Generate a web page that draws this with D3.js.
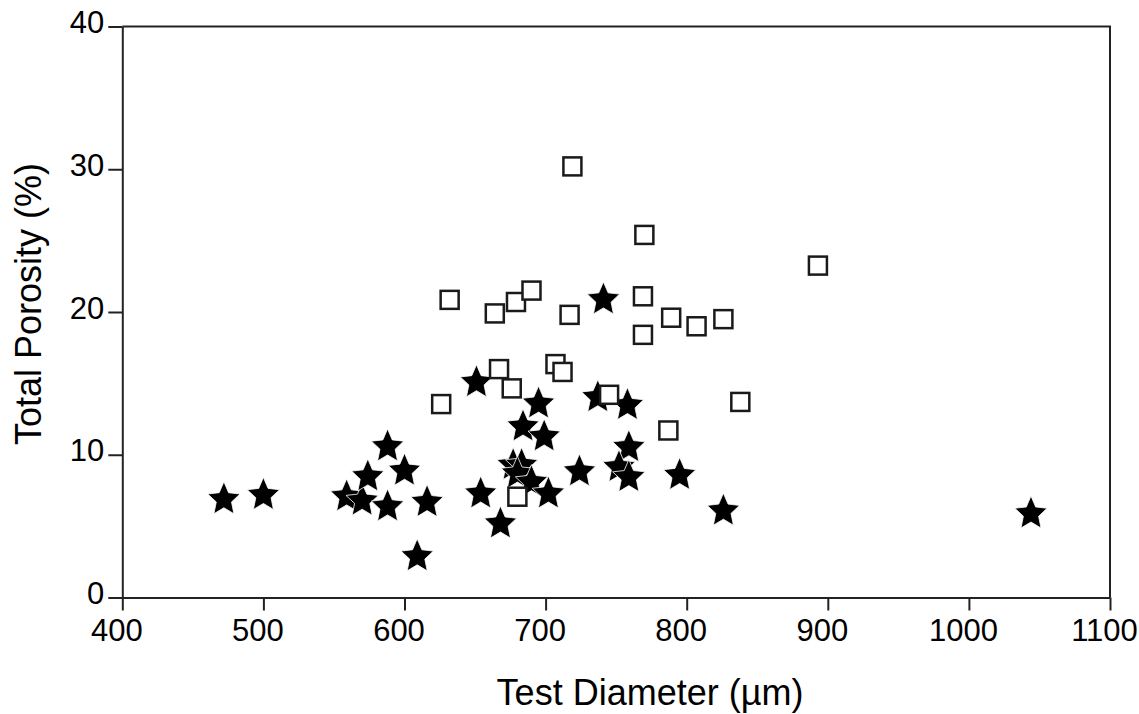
<!DOCTYPE html>
<html>
<head>
<meta charset="utf-8">
<script src="https://cdn.jsdelivr.net/npm/d3@7"></script>
<style>
  html, body { margin: 0; padding: 0; background: #fff; }
  svg { display: block; font-family: "Liberation Sans", Arial, sans-serif; }
</style>
</head>
<body>
<div id="chart"></div>
<script>
// filled stars
const starX = [472, 500, 559, 570, 574, 588, 588, 600, 609, 616,
               651, 654, 668, 677, 683, 680, 690, 684, 695, 699,
               702, 724, 737, 741, 758, 759, 752, 759, 795, 826, 1044];
const starY = [6.8, 7.1, 7.0, 6.7, 8.4, 10.5, 6.3, 8.8, 2.8, 6.6,
               15.0, 7.2, 5.1, 9.2, 9.2, 8.6, 8.0, 11.9, 13.5, 11.2,
               7.2, 8.75, 13.95, 20.8, 13.4, 10.45, 9.05, 8.35, 8.5, 6.0, 5.8];

// open squares
const squareX = [626, 632, 664, 667, 676, 679, 680, 690, 707, 712,
                 717, 719, 745, 769, 769, 770, 787, 789, 807, 826, 838, 893];
const squareY = [13.55, 20.85, 19.9, 16.0, 14.65, 20.7, 7.06, 21.5, 16.35, 15.8,
                 19.8, 30.2, 14.2, 21.1, 18.4, 25.4, 11.7, 19.6, 19.0, 19.5, 13.7, 23.25];

const xTicks = [400, 500, 600, 700, 800, 900, 1000, 1100];
const yTicks = [0, 10, 20, 30, 40];

const width = 1139, height = 714;
const plot = { left: 122.3, right: 1110, top: 26.5, bottom: 597.5 };

const svg = d3.select("#chart").append("svg")
   .attr("width", width)
   .attr("height", height);

const x = d3.scaleLinear().domain([400, 1100]).range([plot.left, plot.right]);
const y = d3.scaleLinear().domain([0, 40]).range([plot.bottom, plot.top]);

const axisColor = "#222";

// frame (top + right)
svg.append("path")
   .attr("d", `M${plot.left},${plot.top}H${plot.right}V${plot.bottom}`)
   .attr("fill", "none")
   .attr("stroke", axisColor)
   .attr("stroke-width", 2);

// bottom axis
svg.append("g")
   .attr("transform", `translate(0,${plot.bottom})`)
   .call(d3.axisBottom(x).tickValues(xTicks).tickFormat(d3.format("d")).tickSize(13).tickSizeOuter(0).tickPadding(8))
   .call(g => g.select(".domain").attr("stroke", axisColor).attr("stroke-width", 2))
   .call(g => g.selectAll(".tick line").attr("stroke", axisColor).attr("stroke-width", 2))
   .call(g => g.selectAll(".tick text")
      .attr("fill", "#000")
      .attr("font-size", 31)
      .attr("font-family", "Liberation Sans, Arial, sans-serif")
      .attr("dx", -6));

// left axis
svg.append("g")
   .attr("transform", `translate(${plot.left},0)`)
   .call(d3.axisLeft(y).tickValues(yTicks).tickSize(14).tickSizeOuter(0).tickPadding(4))
   .call(g => g.select(".domain").attr("stroke", axisColor).attr("stroke-width", 2))
   .call(g => g.selectAll(".tick line").attr("stroke", axisColor).attr("stroke-width", 2))
   .call(g => g.selectAll(".tick text")
      .attr("fill", "#000")
      .attr("font-size", 31)
      .attr("font-family", "Liberation Sans, Arial, sans-serif")
      .attr("dy", "0.2em"));

// axis titles
svg.append("text")
   .attr("x", 650)
   .attr("y", 705)
   .attr("text-anchor", "middle")
   .attr("font-size", 36)
   .attr("fill", "#000")
   .text("Test Diameter (µm)");

svg.append("text")
   .attr("transform", `translate(41,304) rotate(-90)`)
   .attr("text-anchor", "middle")
   .attr("font-size", 36)
   .attr("fill", "#000")
   .text("Total Porosity (%)");

// a fatter five-point star than d3.symbolStar
const fatStar = {
   draw(context, size) {
      const r = Math.sqrt(size) / 1.1;
      const ri = r * 0.47;
      for (let i = 0; i < 10; i++) {
         const a = -Math.PI / 2 + i * Math.PI / 5;
         const rr = i % 2 ? ri : r;
         const px = rr * Math.cos(a), py = rr * Math.sin(a) * 1.04;
         if (i === 0) context.moveTo(px, py); else context.lineTo(px, py);
      }
      context.closePath();
   }
};

// stars
const stars = starX.map((v, i) => [v, starY[i]]);
const star = d3.symbol().type(fatStar).size(350);
svg.append("g")
   .selectAll("path")
   .data(stars)
   .join("path")
   .attr("transform", d => `translate(${x(d[0])},${y(d[1]) - 1})`)
   .attr("d", star)
   .attr("fill", "#000")
   .attr("stroke", "#fff")
   .attr("stroke-width", 0.8);

// squares
const squares = squareX.map((v, i) => [v, squareY[i]]);
const side = 18;
svg.append("g")
   .selectAll("rect")
   .data(squares)
   .join("rect")
   .attr("x", d => x(d[0]) - side / 2)
   .attr("y", d => y(d[1]) - side / 2)
   .attr("width", side)
   .attr("height", side)
   .attr("fill", "#fff")
   .attr("stroke", "#1a1a1a")
   .attr("stroke-width", 2.5);
</script>
</body>
</html>
